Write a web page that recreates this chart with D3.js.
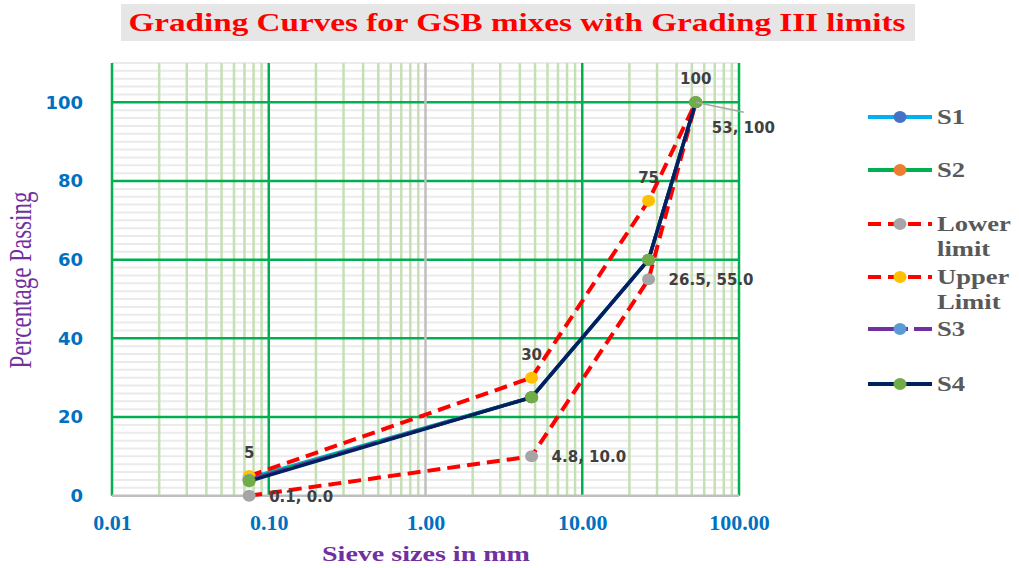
<!DOCTYPE html>
<html lang="en">
<head>
<meta charset="UTF-8">
<script src="https://d3js.org/d3.v7.min.js"></script>
<style>
  body { margin: 0; background: #fff; }
  svg { display: block; }
</style>
</head>
<body>
<div class="Fig"></div>
<script>
// sieve sizes (mm) and percentage passing
const sieves = [0.075, 4.75, 26.5, 53];
const s1 = [4.5, 25, 60, 100];
const s2 = [4.2, 25, 60, 100];
const lowerLimit = [0, 10, 55, 100];
const upperLimit = [5, 30, 75, 100];
const s3 = [4.0, 25, 60, 100];
const s4 = [3.7, 25, 60, 100];
const lowerLabels = ["0.1, 0.0", "4.8, 10.0", "26.5, 55.0", "53, 100"];
const xTicks = [0.01, 0.1, 1, 10, 100];
const yTicks = [0, 20, 40, 60, 80, 100];

const series = [
  { name: "S1", values: s1, line: "#00b0f0", marker: "#4472c4", dash: null, width: 3.5 },
  { name: "S2", values: s2, line: "#00b050", marker: "#ed7d31", dash: null, width: 3.5 },
  { name: "Lower|limit", values: lowerLimit, line: "#ff0000", marker: "#a5a5a5", dash: "13,7", width: 4 },
  { name: "Upper|Limit", values: upperLimit, line: "#ff0000", marker: "#ffc000", dash: "13,7", width: 4 },
  { name: "S3", values: s3, line: "#7030a0", marker: "#5b9bd5", dash: "40,6", width: 3.5 },
  { name: "S4", values: s4, line: "#002060", marker: "#70ad47", dash: null, width: 3.5 }
];

const W = 1019, H = 568;
const svg = d3.select(".Fig").append("svg").attr("width", W).attr("height", H);

const x = d3.scaleLog().domain([0.01, 100]).range([112, 739]);
const y = d3.scaleLinear().domain([0, 110]).range([495.7, 63]);

// title
svg.append("rect").attr("x", 121).attr("y", 4).attr("width", 794).attr("height", 37).attr("fill", "#e7e6e6");
svg.append("text").attr("x", 517).attr("y", 31).attr("text-anchor", "middle")
  .attr("font-family", "Liberation Serif").attr("font-weight", "bold").attr("font-size", 26)
  .attr("fill", "#ff0000").attr("textLength", 777).attr("lengthAdjust", "spacingAndGlyphs")
  .text("Grading Curves for GSB mixes with Grading III limits");

// grid
const grid = svg.append("g");
const minorY = d3.range(0, 111, 2).filter(v => v % 20 !== 0);
grid.selectAll(".hminor").data(minorY).enter().append("line")
  .attr("x1", x(0.01)).attr("x2", x(100))
  .attr("y1", d => y(d)).attr("y2", d => y(d))
  .attr("stroke", "#ebebeb").attr("stroke-width", 2);

const minorX = [];
[0.01, 0.1, 1, 10].forEach(p => { for (let k = 2; k <= 9; k++) minorX.push(p * k); });
grid.selectAll(".vminor").data(minorX).enter().append("line")
  .attr("x1", d => x(d)).attr("x2", d => x(d))
  .attr("y1", y(0)).attr("y2", y(110))
  .attr("stroke", "#c5e0b4").attr("stroke-width", 2.5);

grid.selectAll(".hmajor").data(yTicks.slice(1)).enter().append("line")
  .attr("x1", x(0.01)).attr("x2", x(100))
  .attr("y1", d => y(d)).attr("y2", d => y(d))
  .attr("stroke", "#00b050").attr("stroke-width", 2.5);

grid.selectAll(".vmajor").data([0.01, 0.1, 10, 100]).enter().append("line")
  .attr("x1", d => x(d)).attr("x2", d => x(d))
  .attr("y1", y(0)).attr("y2", y(110))
  .attr("stroke", "#00b050").attr("stroke-width", 2.5);

// axis lines (vertical axis crosses at 1)
grid.append("line").attr("x1", x(1)).attr("x2", x(1)).attr("y1", y(0)).attr("y2", y(110))
  .attr("stroke", "#bfbfbf").attr("stroke-width", 2.5);
grid.append("line").attr("x1", x(0.01)).attr("x2", x(100)).attr("y1", y(0)).attr("y2", y(0))
  .attr("stroke", "#bfbfbf").attr("stroke-width", 2.5);

// axes tick labels
const xAxis = svg.append("g").attr("transform", "translate(0," + (y(0) + 16) + ")")
  .call(d3.axisBottom(x).tickValues(xTicks).tickFormat(d3.format(".2f")).tickSize(0));
xAxis.select(".domain").remove();
xAxis.selectAll("text").attr("font-family", "Liberation Serif").attr("font-weight", "bold")
  .attr("font-size", 22).attr("fill", "#0070c0");

const yAxis = svg.append("g").attr("transform", "translate(" + (x(0.01) - 26) + ",0)")
  .call(d3.axisLeft(y).tickValues(yTicks).tickSize(0));
yAxis.select(".domain").remove();
yAxis.selectAll("text").attr("font-family", "DejaVu Sans").attr("font-weight", "bold")
  .attr("font-size", 18).attr("fill", "#0070c0");

// axis titles
svg.append("text").attr("x", 426).attr("y", 561).attr("text-anchor", "middle")
  .attr("font-family", "Liberation Serif").attr("font-weight", "bold").attr("font-size", 22)
  .attr("fill", "#7030a0").attr("textLength", 208).attr("lengthAdjust", "spacingAndGlyphs")
  .text("Sieve sizes in mm");
svg.append("text").attr("transform", "translate(31,280) rotate(-90) scale(1,1.4)").attr("text-anchor", "middle")
  .attr("font-family", "Liberation Serif").attr("font-size", 23)
  .attr("fill", "#7030a0").text("Percentage Passing");

// series
const line = d3.line().x((d, i) => x(sieves[i])).y(d => y(d));
const plot = svg.append("g");
series.forEach(s => {
  plot.append("path").datum(s.values).attr("d", line)
    .attr("fill", "none").attr("stroke", s.line).attr("stroke-width", s.width)
    .attr("stroke-dasharray", s.dash).attr("stroke-linejoin", "round");
  plot.selectAll(null).data(s.values).enter().append("ellipse")
    .attr("cx", (d, i) => x(sieves[i])).attr("cy", d => y(d)).attr("rx", 6.5).attr("ry", 6)
    .attr("fill", s.marker);
});

// data labels
const labels = svg.append("g").attr("font-family", "DejaVu Sans").attr("font-size", 15)
  .attr("fill", "#404040").attr("font-weight", "bold");
labels.selectAll(null).data(upperLimit).enter().append("text")
  .attr("x", (d, i) => x(sieves[i])).attr("y", d => y(d) - 18)
  .attr("text-anchor", "middle").text(d => d);
labels.selectAll(null).data(lowerLimit.slice(0, 3)).enter().append("text")
  .attr("x", (d, i) => x(sieves[i]) + 20).attr("y", d => y(d) + 6)
  .text((d, i) => lowerLabels[i]);
svg.append("line").attr("x1", x(53)).attr("y1", y(100)).attr("x2", x(53) + 48).attr("y2", y(100) + 10)
  .attr("stroke", "#a6a6a6").attr("stroke-width", 1.5);
labels.append("text").attr("x", x(53) + 16).attr("y", y(100) + 31).text(lowerLabels[3]);

// legend
const legendY = [117, 170, 224, 277, 329, 384];
const legend = svg.append("g");
series.forEach((s, i) => {
  const g = legend.append("g").attr("transform", "translate(0," + legendY[i] + ")");
  g.append("line").attr("x1", 868).attr("x2", 932).attr("y1", 0).attr("y2", 0)
    .attr("stroke", s.line).attr("stroke-width", 4).attr("stroke-dasharray", s.dash);
  g.append("ellipse").attr("cx", 900).attr("cy", 0).attr("rx", 6.5).attr("ry", 6).attr("fill", s.marker);
  const t = g.append("text").attr("transform", "translate(937,7) scale(1.33,1)")
    .attr("font-family", "Liberation Serif").attr("font-weight", "bold").attr("font-size", 20)
    .attr("fill", "#595959");
  s.name.split("|").forEach((w, j) => {
    t.append("tspan").attr("x", 0).attr("dy", j === 0 ? 0 : 25).text(w);
  });
});
</script>
</body>
</html>
